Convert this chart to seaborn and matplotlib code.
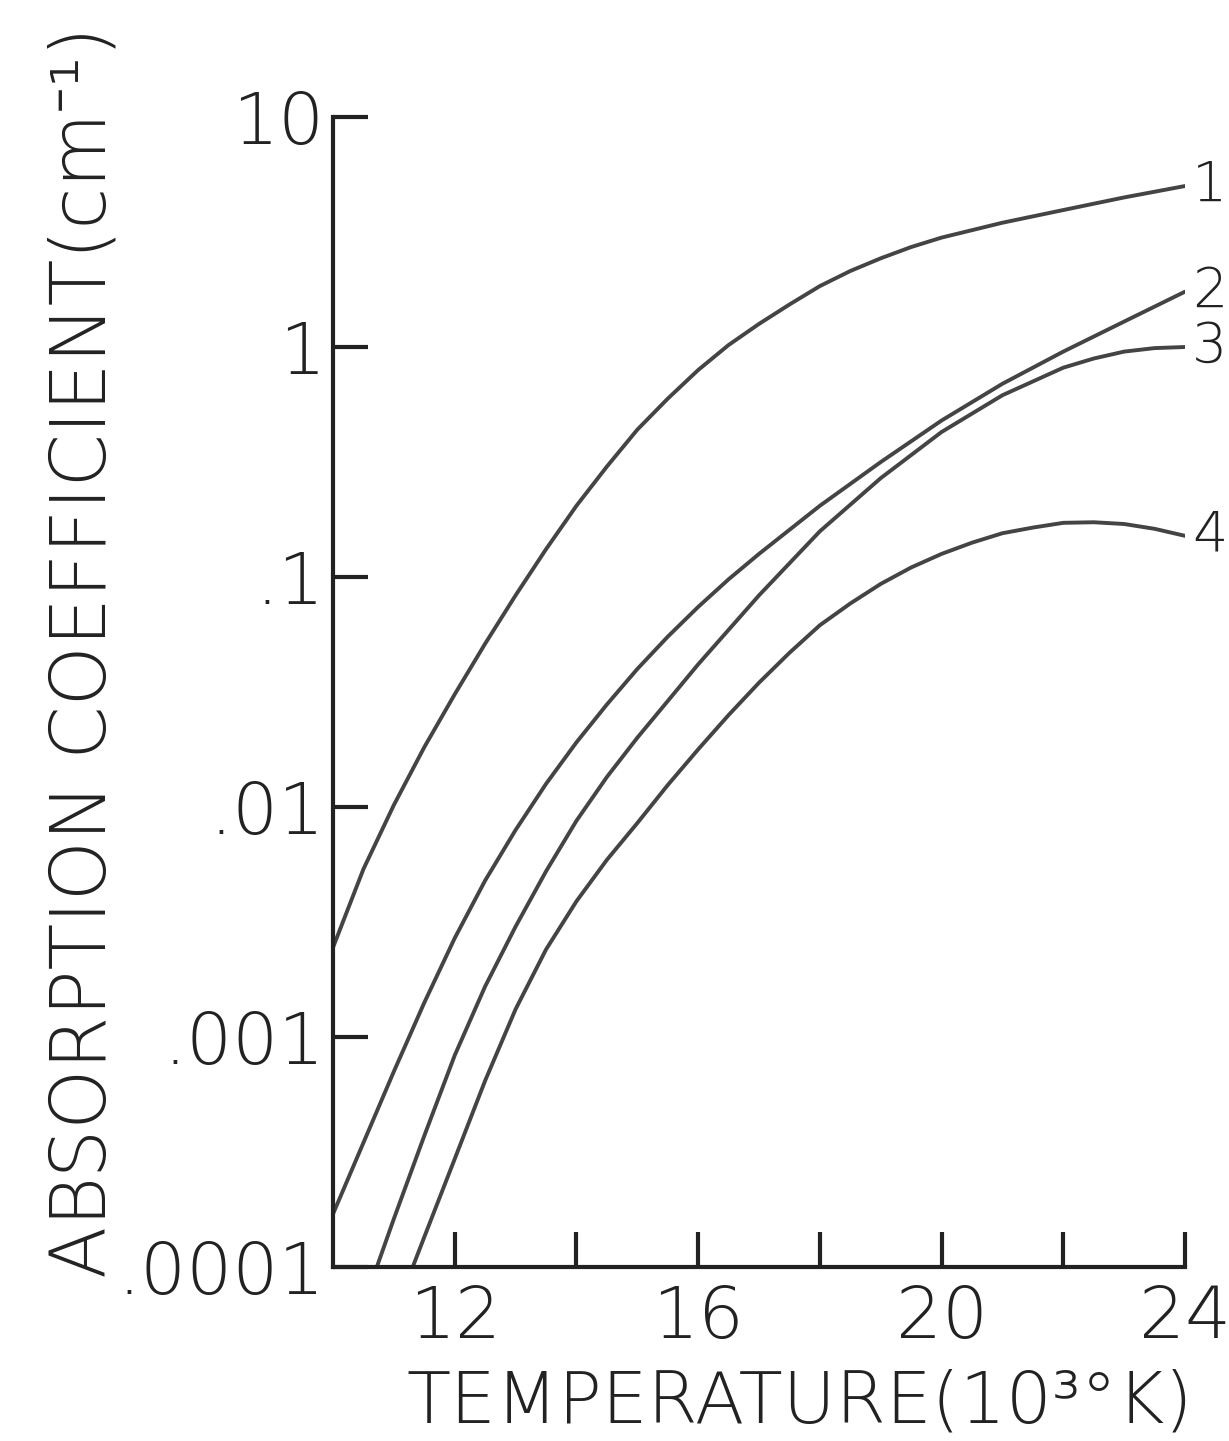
import matplotlib
matplotlib.use("Agg")
import matplotlib.pyplot as plt
import seaborn as sns
import pandas as pd

# ---- data ----
temp_1 = [10.0, 10.5, 11.0, 11.5, 12.0, 12.5, 13.0, 13.5, 14.0, 14.5, 15.0, 15.5, 16.0, 16.5, 17.0, 17.5, 18.0, 18.5, 19.0, 19.5, 20.0, 21.0, 22.0, 23.0, 24.0]
coef_1 = [0.00245, 0.00537, 0.0102, 0.0182, 0.0309, 0.0513, 0.0832, 0.132, 0.204, 0.302, 0.437, 0.596, 0.794, 1.02, 1.26, 1.53, 1.84, 2.14, 2.43, 2.72, 2.99, 3.47, 3.94, 4.47, 5.01]

temp_2 = [10.0, 10.5, 11.0, 11.5, 12.0, 12.5, 13.0, 13.5, 14.0, 14.5, 15.0, 15.5, 16.0, 16.5, 17.0, 18.0, 19.0, 20.0, 21.0, 22.0, 23.0, 24.0]
coef_2 = [0.000170, 0.000347, 0.000708, 0.00141, 0.00269, 0.00479, 0.00794, 0.0126, 0.0191, 0.0279, 0.0398, 0.0550, 0.0741, 0.0977, 0.126, 0.204, 0.316, 0.479, 0.692, 0.955, 1.29, 1.74]

temp_3 = [10.72, 11.0, 11.5, 12.0, 12.5, 13.0, 13.5, 14.0, 14.5, 15.0, 16.0, 17.0, 18.0, 19.0, 20.0, 21.0, 22.0, 22.5, 23.0, 23.5, 24.0]
coef_3 = [0.0001, 0.000162, 0.000372, 0.000832, 0.00166, 0.00302, 0.00525, 0.00871, 0.0135, 0.0200, 0.0417, 0.0832, 0.158, 0.269, 0.427, 0.617, 0.813, 0.891, 0.955, 0.989, 1.0]

temp_4 = [11.31, 11.5, 12.0, 12.5, 13.0, 13.5, 14.0, 14.5, 15.0, 15.5, 16.0, 16.5, 17.0, 17.5, 18.0, 18.5, 19.0, 19.5, 20.0, 20.5, 21.0, 21.5, 22.0, 22.5, 23.0, 23.5, 24.0]
coef_4 = [0.0001, 0.000135, 0.000295, 0.000646, 0.00132, 0.00240, 0.00389, 0.00589, 0.00851, 0.01245, 0.0178, 0.0251, 0.0347, 0.0468, 0.0617, 0.0767, 0.0933, 0.110, 0.126, 0.141, 0.155, 0.164, 0.172, 0.173, 0.170, 0.162, 0.151]

curve_names = ["1", "2", "3", "4"]

x_ticks = [12, 14, 16, 18, 20, 22, 24]
x_ticklabels = ["12", "", "16", "", "20", "", "24"]
y_ticks = [10, 1, 0.1, 0.01, 0.001, 0.0001]
y_ticklabels = ["10", "1", ".1", ".01", ".001", ".0001"]

frames = []
for name, t, c in zip(curve_names, [temp_1, temp_2, temp_3, temp_4], [coef_1, coef_2, coef_3, coef_4]):
    frames.append(pd.DataFrame({"T": t, "k": c, "curve": name}))
df = pd.concat(frames, ignore_index=True)

# ---- style ----
sns.set_style("ticks")
FAMILIES = ["DejaVu Sans", "Noto Sans", "Liberation Sans"]
plt.rcParams["font.family"] = FAMILIES
TXT_W = 200  # light lettering

W, H = 1229, 1441
fig = plt.figure(figsize=(W / 100, H / 100), dpi=100)
ax = fig.add_axes([333 / W, 1 - 1267 / H, 852 / W, 1150 / H])

line_color = "#444444"
sns.lineplot(data=df, x="T", y="k", hue="curve", units="curve", estimator=None,
             sort=False, palette={n: line_color for n in curve_names},
             linewidth=2.8, legend=False, ax=ax)

ax.set_yscale("log")
ax.set_xlim(10, 24)
ax.set_ylim(1e-4, 10)

for s in ["top", "right"]:
    ax.spines[s].set_visible(False)
for s in ["left", "bottom"]:
    ax.spines[s].set_linewidth(3)
    ax.spines[s].set_color("#222222")

ax.set_xticks(x_ticks)
ax.set_xticklabels(x_ticklabels)
ax.set_yticks(y_ticks)
ax.set_yticklabels(y_ticklabels)
ax.minorticks_off()
ax.tick_params(axis="both", which="major", direction="in", length=25, width=3,
               color="#222222", labelsize=52, labelcolor="#222222")
ax.tick_params(axis="x", pad=12)
ax.tick_params(axis="y", pad=6)
for lab in ax.get_xticklabels() + ax.get_yticklabels():
    lab.set_fontweight(TXT_W)
ax.set_xlabel("")
ax.set_ylabel("")

# curve labels at the end of each curve
for name, t, c in zip(curve_names, [temp_1, temp_2, temp_3, temp_4], [coef_1, coef_2, coef_3, coef_4]):
    ax.text(t[-1] + 0.12, c[-1], name, fontsize=40, ha="left", va="center",
            color="#222222", fontweight=TXT_W, clip_on=False)

fig.text(800 / W, 1 - 1403 / H, "TEMPERATURE(10³°K)", fontsize=52,
         ha="center", va="center", color="#222222", fontweight=TXT_W,
         family=FAMILIES)
fig.text(85 / W, 1 - 652 / H, "ABSORPTION COEFFICIENT(cm⁻¹)", fontsize=55,
         rotation=90, ha="center", va="center", color="#222222", fontweight=TXT_W,
         family=FAMILIES)

fig.savefig("out.png", dpi=100, facecolor="white")
